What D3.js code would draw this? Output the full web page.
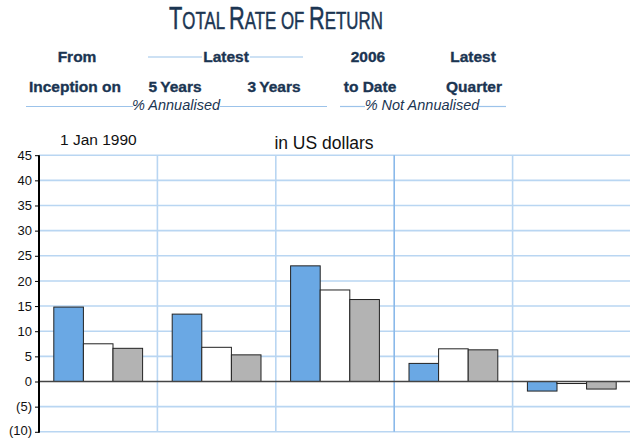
<!DOCTYPE html>
<meta charset="utf-8">
<style>
body { margin: 0; background: #fff; }
svg text { font-family: "Liberation Sans", Arial, sans-serif; }
.head { fill: #1b3552; stroke: #1b3552; stroke-width: 0.35; font-weight: bold; font-size: 15.5px; text-anchor: middle; }
.sub { fill: #1b3552; font-style: italic; font-size: 14.5px; text-anchor: middle; }
.rule { stroke: #9cc3ea; stroke-width: 1.2; }
.grid line { stroke: #b9d6f2; stroke-width: 1.6; }
.axis--y path { display: none; }
.axis--y text { font-size: 13px; fill: #111; }
</style>
<body>
<svg width="630" height="438"></svg>
<script src="https://d3js.org/d3.v7.min.js"></script>
<script>

// periods and the three series (values in %)
var periods = ["From Inception", "Latest 5 Years", "Latest 3 Years", "2006 to Date", "Latest Quarter"];
var seriesNames = ["fund", "index", "peer"];
var fund  = [14.8, 13.4, 23.0, 3.6, -1.9];
var index = [7.5, 6.8, 18.2, 6.5, -0.4];
var peer  = [6.6, 5.3, 16.3, 6.3, -1.5];
var yTicks = [-10, -5, 0, 5, 10, 15, 20, 25, 30, 35, 40, 45];

var colors = { fund: "#6aa8e4", index: "#ffffff", peer: "#b3b3b3" };

var svg = d3.select("svg");

var x = d3.scaleBand().domain(periods).range([39, 631]);
var xs = d3.scaleBand().domain(seriesNames).range([0, x.bandwidth()]).paddingOuter(0.5);
var y = d3.scaleLinear().domain([-10, 45]).range([431.8, 155.2]);

// title (small caps done by hand, squeezed to a condensed look)
var titleG = svg.append("g");
var title = titleG.append("text")
    .attr("x", 0).attr("y", 0)
    .style("fill", "#1b3552").style("stroke", "#1b3552").style("stroke-width", 0.5);
[["T", 31], ["OTAL ", 24], ["R", 31], ["ATE OF ", 24], ["R", 31], ["ETURN", 24]].forEach(function(p) {
  title.append("tspan").style("font-size", p[1] + "px").text(p[0]);
});
var tw = title.node().getComputedTextLength();
titleG.attr("transform", "translate(169,29) scale(" + (214 / tw) + ",1)");

// column headings
var heads = [
  [77, 62, "From"], [226, 62, "Latest"], [368, 62, "2006"], [473, 62, "Latest"],
  [75, 92, "Inception on"], [175, 92, "5\u2009Years"], [274, 92, "3\u2009Years"], [370, 92, "to Date"], [474, 92, "Quarter"]
];
svg.selectAll(".head").data(heads).enter().append("text")
    .attr("class", "head")
    .attr("x", function(d) { return d[0]; })
    .attr("y", function(d) { return d[1]; })
    .text(function(d) { return d[2]; });

svg.append("text").attr("class", "sub").attr("x", 176).attr("y", 110).text("% Annualised");
svg.append("text").attr("class", "sub").attr("x", 422).attr("y", 110).text("% Not Annualised");

var rules = [[148, 202, 57], [250, 303, 57], [26, 133, 106.5], [220, 327, 106.5], [340, 365, 106.5], [479, 506, 106.5]];
svg.selectAll(".rule").data(rules).enter().append("line")
    .attr("class", "rule")
    .attr("x1", function(d) { return d[0]; })
    .attr("x2", function(d) { return d[1]; })
    .attr("y1", function(d) { return d[2]; })
    .attr("y2", function(d) { return d[2]; });

svg.append("text").attr("x", 60).attr("y", 145).style("font-size", "15.5px").style("fill", "#111").text("1 Jan 1990");
svg.append("text").attr("x", 324).attr("y", 149).attr("text-anchor", "middle")
    .style("font-size", "17.5px").style("fill", "#111").text("in US dollars");

// grid
var grid = svg.append("g").attr("class", "grid");
grid.selectAll(".h").data(yTicks.filter(function(t) { return t !== 0; })).enter().append("line")
    .attr("x1", 39).attr("x2", 630)
    .attr("y1", function(d) { return y(d); })
    .attr("y2", function(d) { return y(d); });
grid.selectAll(".v").data(periods.slice(1)).enter().append("line")
    .attr("x1", function(d) { return x(d); })
    .attr("x2", function(d) { return x(d); })
    .attr("y1", y(45)).attr("y2", y(-10))
    .style("stroke", function(d, i) { return i === 2 ? "#8ab9ea" : null; });

// bars
var table = periods.map(function(p, i) {
  return { period: p, values: [
    { key: "fund", v: fund[i] }, { key: "index", v: index[i] }, { key: "peer", v: peer[i] }] };
});

var grp = svg.selectAll(".grp").data(table).enter().append("g")
    .attr("transform", function(d) { return "translate(" + x(d.period) + ",0)"; });

grp.selectAll("rect").data(function(d) { return d.values; }).enter().append("rect")
    .attr("x", function(d) { return xs(d.key); })
    .attr("width", xs.bandwidth())
    .attr("y", function(d) { return y(Math.max(0, d.v)); })
    .attr("height", function(d) { return Math.abs(y(d.v) - y(0)); })
    .attr("fill", function(d) { return colors[d.key]; })
    .attr("stroke", "#222")
    .attr("stroke-width", 1);

// zero line
svg.append("line")
    .attr("x1", 39).attr("x2", 630)
    .attr("y1", y(0)).attr("y2", y(0))
    .attr("stroke", "#444").attr("stroke-width", 1.5);

// y axis
var yAxis = svg.append("g")
    .attr("class", "axis axis--y")
    .attr("transform", "translate(39,0)")
    .call(d3.axisLeft(y).tickValues(yTicks).tickSize(4).tickPadding(3)
      .tickFormat(function(d) { return d < 0 ? "(" + (-d) + ")" : d; }));
// keep the bottom label inside the frame
yAxis.selectAll(".tick text").filter(function(d) { return d === -10; }).attr("dy", "0.2em");
svg.append("line")
    .attr("x1", 39).attr("x2", 39)
    .attr("y1", y(45)).attr("y2", y(-10) + 1)
    .attr("stroke", "#000").attr("stroke-width", 2);

</script>
</body>
